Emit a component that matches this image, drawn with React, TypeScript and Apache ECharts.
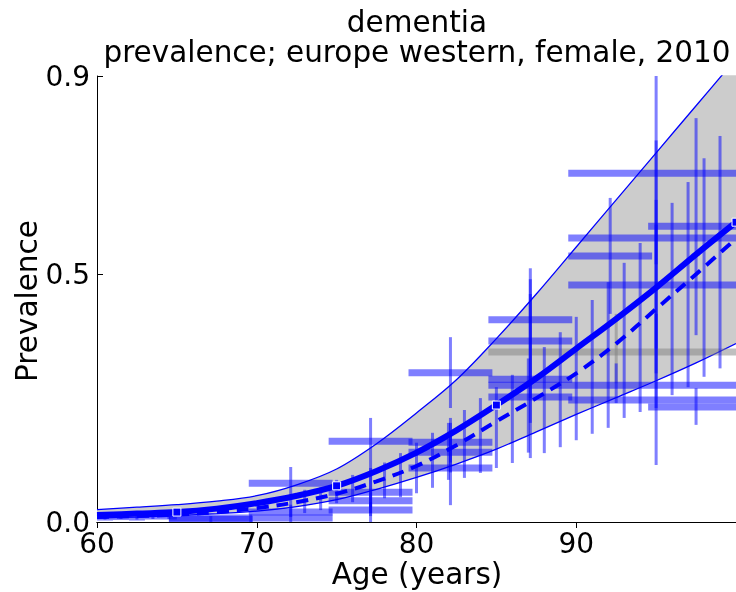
import React, { useEffect, useRef } from "react";
import * as echarts from "echarts";

const FONT = "DejaVu Sans";
const BLUE = "#0000ff";
const BAR_BLUE = "rgba(0,0,255,0.5)";
const BAR_GRAY = "rgba(128,128,128,0.5)";

// axis ticks
const xTicks = [60, 70, 80, 90];
const yTicks = [0, 0.5, 0.9];

// fitted curves (age grid)
const fitAges = [60, 62.5, 65, 67.5, 70, 72.5, 75, 77.5, 80, 82.5, 85, 87.5, 90, 92.5, 95, 97.5, 100];
const meanFit = [0.014, 0.017, 0.02, 0.027, 0.038, 0.053, 0.073, 0.103, 0.14, 0.185, 0.236, 0.29, 0.35, 0.41, 0.473, 0.54, 0.605];
const dashedFit = [0.01, 0.012, 0.015, 0.02, 0.028, 0.04, 0.057, 0.082, 0.113, 0.155, 0.203, 0.25, 0.3, 0.36, 0.43, 0.5, 0.572];
const upperBound = [0.025, 0.03, 0.035, 0.042, 0.053, 0.075, 0.107, 0.158, 0.22, 0.287, 0.37, 0.46, 0.555, 0.65, 0.745, 0.84, 0.935];
const lowerBound = [0.008, 0.01, 0.013, 0.017, 0.022, 0.031, 0.045, 0.066, 0.09, 0.117, 0.147, 0.182, 0.217, 0.251, 0.285, 0.321, 0.36];
const knotAges = [65, 75, 85, 100];

// age-range data: [ageStart, ageEnd, value, lowerCI, upperCI]
const rangeData = [
  [60, 61, 0.01, 0.005, 0.016],
  [61, 62, 0.011, 0.006, 0.017],
  [62, 63, 0.01, 0.005, 0.017],
  [63, 64, 0.012, 0.006, 0.018],
  [64, 65, 0.012, 0.006, 0.019],
  [64.5, 69.75, 0.005, 0.0, 0.012],
  [64.5, 74.75, 0.008, 0.0, 0.015],
  [69.5, 74.75, 0.078, 0.0, 0.111],
  [69.5, 74.75, 0.02, 0.01, 0.035],
  [74.5, 79.75, 0.163, 0.0, 0.21],
  [74.5, 79.75, 0.06, 0.018, 0.109],
  [74.5, 79.75, 0.043, 0.03, 0.06],
  [74.5, 79.75, 0.024, 0.012, 0.04],
  [79.5, 84.75, 0.301, 0.23, 0.373],
  [79.5, 84.75, 0.161, 0.12, 0.2],
  [79.5, 84.75, 0.141, 0.1, 0.18],
  [79.5, 84.75, 0.109, 0.034, 0.21],
  [84.5, 89.75, 0.408, 0.3, 0.512],
  [84.5, 89.75, 0.365, 0.25, 0.49],
  [84.5, 89.75, 0.288, 0.129, 0.46],
  [84.5, 89.75, 0.252, 0.2, 0.3],
  [84.5, 100.5, 0.276, 0.24, 0.32],
  [89.5, 94.75, 0.537, 0.42, 0.654],
  [89.5, 100.5, 0.704, 0.52, 0.95],
  [89.5, 100.5, 0.573, 0.35, 0.77],
  [89.5, 100.5, 0.478, 0.3, 0.65],
  [89.5, 100.5, 0.246, 0.115, 0.42],
  [94.5, 100.5, 0.597, 0.377, 0.815],
  [94.5, 100.5, 0.232, 0.196, 0.27],
];
// excluded data (gray)
const excludedData = [[84.5, 100.5, 0.343, 0.28, 0.42]];

// single-year data: confidence intervals only
const singleAges = [73, 74, 75, 76, 78, 79, 80, 81, 82, 83, 84, 85, 86, 87, 88, 89, 90, 91, 92, 93, 94, 95, 96, 97, 98, 99];
const singleLower = [0.018, 0.024, 0.038, 0.04, 0.048, 0.05, 0.058, 0.069, 0.085, 0.089, 0.099, 0.109, 0.119, 0.14, 0.139, 0.151, 0.165, 0.178, 0.19, 0.21, 0.222, 0.23, 0.256, 0.272, 0.293, 0.31];
const singleUpper = [0.065, 0.07, 0.085, 0.095, 0.12, 0.139, 0.16, 0.18, 0.2, 0.226, 0.25, 0.272, 0.297, 0.33, 0.353, 0.383, 0.414, 0.448, 0.484, 0.523, 0.563, 0.6, 0.644, 0.686, 0.734, 0.779];

const titleLines = ["dementia", "prevalence; europe western, female, 2010"];

function rangeRenderer(color: string) {
  return (_params: any, api: any) => {
    const s = api.value(0);
    const e = api.value(1);
    const v = api.value(2);
    const lo = api.value(3);
    const hi = api.value(4);
    const a = api.coord([s, v]);
    const b = api.coord([e, v]);
    const m = (s + e) / 2;
    const c = api.coord([m, lo]);
    const d = api.coord([m, hi]);
    return {
      type: "group",
      children: [
        { type: "line", shape: { x1: a[0], y1: a[1], x2: b[0], y2: b[1] }, style: { stroke: color, lineWidth: 7 } },
        { type: "line", shape: { x1: c[0], y1: c[1], x2: d[0], y2: d[1] }, style: { stroke: color, lineWidth: 3 } },
      ],
    };
  };
}

function singleRenderer(_params: any, api: any) {
  const age = api.value(0);
  const c = api.coord([age, api.value(1)]);
  const d = api.coord([age, api.value(2)]);
  return { type: "line", shape: { x1: c[0], y1: c[1], x2: d[0], y2: d[1] }, style: { stroke: BAR_BLUE, lineWidth: 3 } };
}

export default function App() {
  const ref = useRef<HTMLDivElement>(null);
  useEffect(() => {
    const chart = echarts.init(ref.current!, null, { renderer: "svg" });
    const pairs = (ys: number[]) => fitAges.map((a, i) => [a, ys[i]]);
    const knots = knotAges.map((a) => [a, meanFit[fitAges.indexOf(a)]]);
    const singles = singleAges.map((a, i) => [a, singleLower[i], singleUpper[i]]);

    const axisLine = { show: true, lineStyle: { color: "#000", width: 1 } };
    const tick = { show: true, inside: true, length: 6, lineStyle: { color: "#000", width: 1 } };
    const labelStyle = { color: "#000", fontSize: 28, fontFamily: FONT, margin: 7 };
    const SMOOTH = 0.35;

    const option: any = {
      animation: false,
      grid: { left: 97, right: -1, top: 76, bottom: 70, containLabel: false },
      xAxis: [
        {
          type: "value", min: 60, max: 100, interval: 10, position: "bottom",
          axisLine, axisTick: { ...tick, customValues: xTicks },
          axisLabel: { ...labelStyle, customValues: xTicks },
          splitLine: { show: false },
        },
        {
          type: "value", min: 60, max: 100, interval: 10, position: "top",
          axisLine, axisTick: { ...tick, customValues: xTicks },
          axisLabel: { show: false }, splitLine: { show: false },
        },
      ],
      yAxis: [
        {
          type: "value", min: 0, max: 0.9, position: "left",
          axisLine, axisTick: { ...tick, customValues: yTicks },
          axisLabel: { ...labelStyle, customValues: yTicks, formatter: (v: number) => v.toFixed(1) },
          splitLine: { show: false },
        },
        {
          type: "value", min: 0, max: 0.9, position: "right",
          axisLine, axisTick: { ...tick, customValues: yTicks },
          axisLabel: { show: false }, splitLine: { show: false },
        },
      ],
      series: [
        {
          type: "line", name: "upper", data: pairs(upperBound),
          smooth: SMOOTH, symbol: "none", z: 1,
          lineStyle: { color: BLUE, width: 1.3 },
          areaStyle: { color: "#cccccc", opacity: 1, origin: "start" },
        },
        {
          type: "line", name: "lower", data: pairs(lowerBound),
          smooth: SMOOTH, symbol: "none", z: 1,
          lineStyle: { color: BLUE, width: 1.3 },
          areaStyle: { color: "#ffffff", opacity: 1, origin: "start" },
        },
        {
          type: "custom", name: "excluded", data: excludedData, renderItem: rangeRenderer(BAR_GRAY),
          clip: true, z: 2, encode: { x: [0, 1], y: [2, 3, 4] },
        },
        {
          type: "custom", name: "ranges", data: rangeData, renderItem: rangeRenderer(BAR_BLUE),
          clip: true, z: 3, encode: { x: [0, 1], y: [2, 3, 4] },
        },
        {
          type: "custom", name: "singles", data: singles, renderItem: singleRenderer,
          clip: true, z: 3, encode: { x: 0, y: [1, 2] },
        },
        {
          type: "line", name: "dashed", data: pairs(dashedFit), smooth: SMOOTH,
          symbol: "none", z: 4, lineStyle: { color: BLUE, width: 4, type: [12, 8] },
        },
        {
          type: "line", name: "mean", data: pairs(meanFit), smooth: SMOOTH,
          symbol: "none", z: 5, lineStyle: { color: BLUE, width: 6 },
        },
        {
          type: "scatter", name: "knots", data: knots, symbol: "rect", symbolSize: 8, z: 6,
          itemStyle: { color: BLUE, borderColor: "#fff", borderWidth: 1, opacity: 1 },
        },
      ],
      graphic: [
        {
          type: "text", x: 417, y: 36.5,
          style: { text: titleLines.join("\n"), font: `29.5px "${FONT}"`, lineHeight: 30, fill: "#000", align: "center", verticalAlign: "middle" },
        },
        { type: "text", x: 417, y: 574, style: { text: "Age (years)", font: `29.5px "${FONT}"`, fill: "#000", align: "center", verticalAlign: "middle" } },
        { type: "text", x: 27, y: 301, rotation: Math.PI / 2, style: { text: "Prevalence", font: `29.5px "${FONT}"`, fill: "#000", align: "center", verticalAlign: "middle" } },
      ],
    };
    chart.setOption(option);
    return () => chart.dispose();
  }, []);
  return <div ref={ref} style={{ position: "fixed", left: 0, top: 0, width: 736, height: 592 }} />;
}
